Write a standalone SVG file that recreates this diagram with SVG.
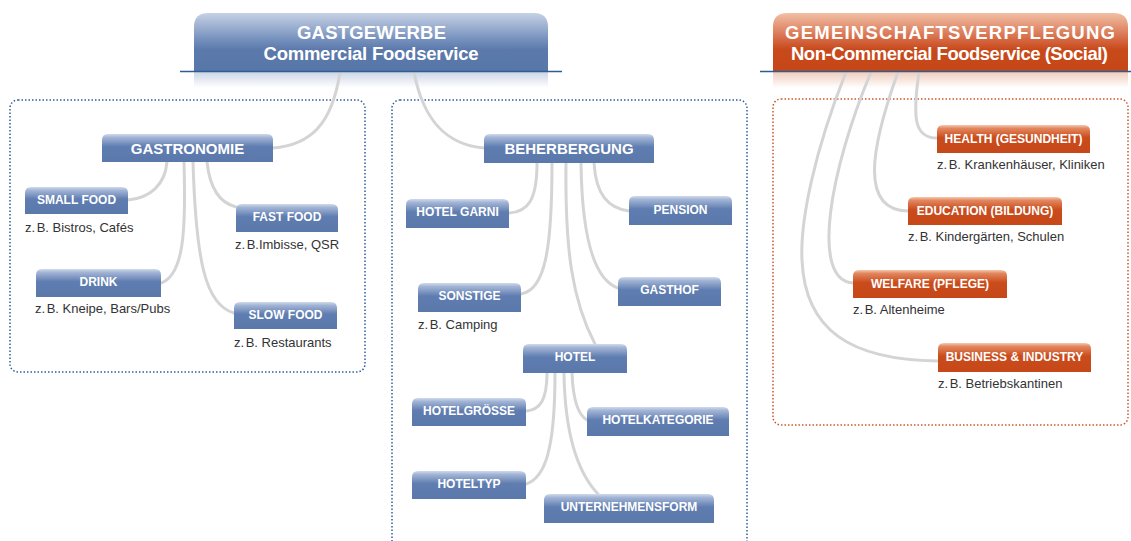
<svg xmlns="http://www.w3.org/2000/svg" width="1131" height="541" viewBox="0 0 1131 541">
<defs>
<linearGradient id="gTopB" x1="0" y1="0" x2="0" y2="1"><stop offset="0" stop-color="#c6d1e5"/><stop offset="0.45" stop-color="#7590bd"/><stop offset="0.62" stop-color="#5b79ab"/><stop offset="1" stop-color="#5877a9"/></linearGradient>
<linearGradient id="gTopO" x1="0" y1="0" x2="0" y2="1"><stop offset="0" stop-color="#f2c0a6"/><stop offset="0.45" stop-color="#d56843"/><stop offset="0.62" stop-color="#c8491a"/><stop offset="1" stop-color="#c54718"/></linearGradient>
<linearGradient id="gFadeB" x1="0" y1="0" x2="0" y2="1"><stop offset="0" stop-color="#cdd6e6"/><stop offset="1" stop-color="#ffffff"/></linearGradient>
<linearGradient id="gFadeO" x1="0" y1="0" x2="0" y2="1"><stop offset="0" stop-color="#f0cdbd"/><stop offset="1" stop-color="#ffffff"/></linearGradient>
<linearGradient id="gNB" x1="0" y1="0" x2="0" y2="1"><stop offset="0" stop-color="#d0daeb"/><stop offset="0.12" stop-color="#a3b5d6"/><stop offset="0.45" stop-color="#5f7db0"/><stop offset="1" stop-color="#5a78aa"/></linearGradient>
<linearGradient id="gNO" x1="0" y1="0" x2="0" y2="1"><stop offset="0" stop-color="#f5c8b0"/><stop offset="0.12" stop-color="#e2875f"/><stop offset="0.45" stop-color="#ca4c1c"/><stop offset="1" stop-color="#c64819"/></linearGradient>
</defs>
<style>
.nb{fill:url(#gNB)}
.no{fill:url(#gNO)}
.nt{font-family:"Liberation Sans",Arial,sans-serif;font-weight:bold;font-size:12px;fill:#ffffff;text-anchor:middle}
.nt15{font-size:15px}
.tt{font-family:"Liberation Sans",Arial,sans-serif;font-weight:bold;font-size:18.5px;fill:#ffffff;text-anchor:middle}
.lb{font-family:"Liberation Sans",Arial,sans-serif;font-size:13px;fill:#333333}
.con path{fill:none;stroke:#d4d4d4;stroke-width:3;stroke-linecap:round}
.dotB{fill:none;stroke:#2d5f9c;stroke-width:1.5;stroke-dasharray:1.5 2}
.dotO{fill:none;stroke:#d0572b;stroke-width:1.5;stroke-dasharray:1.5 2}
.rule{stroke:#2e5d91;stroke-width:1.5}
</style>

<rect class="dotB" x="10" y="100" width="355" height="272" rx="8"/>
<rect class="dotB" x="392" y="100" width="355" height="470" rx="8"/>
<rect class="dotO" x="773" y="99" width="355" height="326" rx="8"/>

<rect x="194" y="72" width="354" height="16" fill="url(#gFadeB)"/>
<rect x="773" y="72" width="355" height="16" fill="url(#gFadeO)"/>

<g class="con" id="connectors">
<path d="M340,72 C332,125 310,145 273,148"/>
<path d="M414,72 C424,125 450,145 484,148"/>
<path d="M167,162 C165,185 150,198 128,200"/>
<path d="M184,162 C186,230 184,275 161,283"/>
<path d="M193,162 C196,260 205,305 234,313"/>
<path d="M207,162 C210,190 220,203 236,207"/>
<path d="M537,163 C537,200 528,212 509,213"/>
<path d="M552,163 C552,250 545,290 521,294"/>
<path d="M566,163 C565,250 572,300 595,344"/>
<path d="M581,163 C582,240 595,280 618,288"/>
<path d="M594,163 C596,195 608,208 629,211"/>
<path d="M547,373 C547,400 540,410 526,411"/>
<path d="M555,373 C555,450 545,478 526,484"/>
<path d="M564,373 C565,440 580,475 598,494"/>
<path d="M572,373 C573,400 578,415 587,420"/>
<path d="M919,72 C912,120 915,138 937,138"/>
<path d="M898,72 C870,150 860,210 908,211"/>
<path d="M871,72 C830,170 810,280 853,283"/>
<path d="M846,72 C815,150 800,220 802,260 C805,330 850,360 938,361"/>
</g>

<g id="gastgewerbe">
<path d="M194,72 V27 Q194,13 208,13 H534 Q548,13 548,27 V72 Z" fill="url(#gTopB)"/>
<line class="rule" x1="180" y1="71.5" x2="562" y2="71.5"/>
<text class="tt" x="371.5" y="38.5" textLength="149" lengthAdjust="spacing">GASTGEWERBE</text>
<text class="tt" x="371" y="59.5" textLength="215" lengthAdjust="spacing">Commercial Foodservice</text>
</g>

<g id="gemeinschaftsverpflegung">
<path d="M773,72 V27 Q773,13 787,13 H1114 Q1128,13 1128,27 V72 Z" fill="url(#gTopO)"/>
<line class="rule" x1="760" y1="71.5" x2="1131" y2="71.5"/>
<text class="tt" x="950" y="38.5" textLength="330" lengthAdjust="spacing">GEMEINSCHAFTSVERPFLEGUNG</text>
<text class="tt" x="949.5" y="60" textLength="317" lengthAdjust="spacing">Non-Commercial Foodservice (Social)</text>
</g>

<g id="gastronomie">
<path class="nb" d="M102,162 V140 Q102,134 108,134 H267 Q273,134 273,140 V162 Z"/>
<text class="nt nt15" x="187.5" y="154">GASTRONOMIE</text>
</g>
<g id="smallfood">
<path class="nb" d="M25,214 V193 Q25,187 31,187 H122 Q128,187 128,193 V214 Z"/>
<text class="nt" x="76.5" y="203.5">SMALL FOOD</text>
<text class="lb" x="25" y="232">z.<tspan dx="1.5">B. Bistros, Cafés</tspan></text>
</g>
<g id="fastfood">
<path class="nb" d="M236,232 V210 Q236,204 242,204 H332 Q338,204 338,210 V232 Z"/>
<text class="nt" x="287" y="221">FAST FOOD</text>
<text class="lb" x="235" y="249">z.<tspan dx="1.5">B.Imbisse, QSR</tspan></text>
</g>
<g id="drink">
<path class="nb" d="M36,297 V275 Q36,269 42,269 H155 Q161,269 161,275 V297 Z"/>
<text class="nt" x="98.5" y="286">DRINK</text>
<text class="lb" x="35" y="313">z.<tspan dx="1.5">B. Kneipe, Bars/Pubs</tspan></text>
</g>
<g id="slowfood">
<path class="nb" d="M234,329 V308 Q234,302 240,302 H331 Q337,302 337,308 V329 Z"/>
<text class="nt" x="285.5" y="318.5">SLOW FOOD</text>
<text class="lb" x="234" y="347">z.<tspan dx="1.5">B. Restaurants</tspan></text>
</g>

<g id="beherbergung">
<path class="nb" d="M484,163 V140 Q484,134 490,134 H648 Q654,134 654,140 V163 Z"/>
<text class="nt nt15" x="569" y="153.5">BEHERBERGUNG</text>
</g>
<g id="hotelgarni">
<path class="nb" d="M406,228 V205 Q406,199 412,199 H503 Q509,199 509,205 V228 Z"/>
<text class="nt" x="457.5" y="216">HOTEL GARNI</text>
</g>
<g id="pension">
<path class="nb" d="M629,225 V202 Q629,196 635,196 H726 Q732,196 732,202 V225 Z"/>
<text class="nt" x="680.5" y="214">PENSION</text>
</g>
<g id="sonstige">
<path class="nb" d="M418,312 V289 Q418,283 424,283 H515 Q521,283 521,289 V312 Z"/>
<text class="nt" x="469.5" y="300">SONSTIGE</text>
<text class="lb" x="418" y="329">z.<tspan dx="1.5">B. Camping</tspan></text>
</g>
<g id="gasthof">
<path class="nb" d="M618,306 V283 Q618,277 624,277 H715 Q721,277 721,283 V306 Z"/>
<text class="nt" x="669.5" y="294">GASTHOF</text>
</g>
<g id="hotel">
<path class="nb" d="M523,373 V350 Q523,344 529,344 H621 Q627,344 627,350 V373 Z"/>
<text class="nt" x="575" y="361">HOTEL</text>
</g>
<g id="hotelgroesse">
<path class="nb" d="M412,426 V404 Q412,398 418,398 H520 Q526,398 526,404 V426 Z"/>
<text class="nt" x="469" y="414.5">HOTELGRÖSSE</text>
</g>
<g id="hotelkategorie">
<path class="nb" d="M587,436 V413 Q587,407 593,407 H723 Q729,407 729,413 V436 Z"/>
<text class="nt" x="658" y="424">HOTELKATEGORIE</text>
</g>
<g id="hoteltyp">
<path class="nb" d="M412,499 V477 Q412,471 418,471 H520 Q526,471 526,477 V499 Z"/>
<text class="nt" x="469" y="488">HOTELTYP</text>
</g>
<g id="unternehmensform">
<path class="nb" d="M544,523 V500 Q544,494 550,494 H708 Q714,494 714,500 V523 Z"/>
<text class="nt" x="629" y="511">UNTERNEHMENSFORM</text>
</g>

<g id="health">
<path class="no" d="M937,153 V131 Q937,125 943,125 H1084 Q1090,125 1090,131 V153 Z"/>
<text class="nt" x="1013.5" y="143">HEALTH (GESUNDHEIT)</text>
<text class="lb" x="937" y="169">z.<tspan dx="1.5">B. Krankenhäuser, Kliniken</tspan></text>
</g>
<g id="education">
<path class="no" d="M908,225 V203 Q908,197 914,197 H1056 Q1062,197 1062,203 V225 Z"/>
<text class="nt" x="985" y="214.5">EDUCATION (BILDUNG)</text>
<text class="lb" x="908" y="241">z.<tspan dx="1.5">B. Kindergärten, Schulen</tspan></text>
</g>
<g id="welfare">
<path class="no" d="M853,298 V276 Q853,270 859,270 H1001 Q1007,270 1007,276 V298 Z"/>
<text class="nt" x="930" y="288">WELFARE (PFLEGE)</text>
<text class="lb" x="853" y="314">z.<tspan dx="1.5">B. Altenheime</tspan></text>
</g>
<g id="business">
<path class="no" d="M938,372 V349 Q938,343 944,343 H1085 Q1091,343 1091,349 V372 Z"/>
<text class="nt" x="1014.5" y="361">BUSINESS &amp; INDUSTRY</text>
<text class="lb" x="938" y="388">z.<tspan dx="1.5">B. Betriebskantinen</tspan></text>
</g>
</svg>
